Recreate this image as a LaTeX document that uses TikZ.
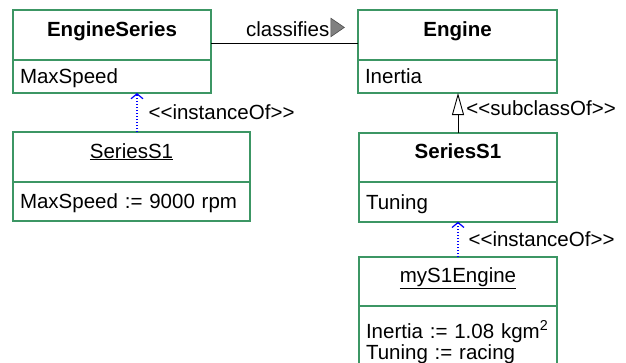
\documentclass[tikz,border=0pt]{standalone}
\usepackage{fontspec}
\setmainfont{Liberation Sans}
\usepackage{tikz}
\usetikzlibrary{arrows.meta, positioning, calc}
\definecolor{classgreen}{RGB}{60,150,100}
\definecolor{linkblue}{RGB}{0,0,255}
\definecolor{markgray}{RGB}{128,128,128}

\begin{document}
\begin{tikzpicture}[x=1pt, y=-1pt,
		every node/.style={font=\fontsize{20.5}{21}\selectfont},
		box/.style={draw=classgreen, line width=1.6pt, outer sep=0pt},
		head/.style={box, minimum width=#1, minimum height=50pt, inner sep=0pt, text height=14pt, text depth=12pt},
		attr/.style={box, text width=#1, align=left, inner xsep=7pt, inner ysep=0pt, text height=14pt, text depth=0pt},
		attrs/.style={box, text width=#1, align=left, inner xsep=7pt, inner ysep=0pt},
		lbl/.style={inner sep=0pt},
		assoc/.style={draw=black, line width=1pt},
		inst/.style={draw=linkblue, line width=1.2pt, dash pattern=on 1.5pt off 1.5pt, -{Straight Barb[length=5pt, width=12pt]}},
		sub/.style={draw=black, line width=0.9pt, -{Triangle[open, length=22pt, width=12pt]}}
	]
	\clip (0,0) rectangle (626,362);
	% classes
	\node[head=198pt] (esH) at (112,35) {\textbf{EngineSeries}};
	\node[attr=184pt, minimum height=33pt, below=0pt of esH] (esA) {MaxSpeed};
	\node[head=199pt] (enH) at (457.5,35) {\textbf{Engine}};
	\node[attr=185pt, minimum height=33pt, below=0pt of enH] (enA) {Inertia};
	\node[head=198pt, minimum height=49.5pt] (ssH) at (458,157.5) {\textbf{SeriesS1}};
	\node[attr=184pt, minimum height=39.5pt, below=0pt of ssH] (ssA) {Tuning};
	% instances
	\node[head=237pt] (objH) at (131.5,157) {\underline{SeriesS1}};
	\node[attr=223pt, minimum height=39pt, below=0pt of objH] (objA) {MaxSpeed := 9000 rpm};
	\node[head=198pt, minimum height=49pt] (mH) at (458,281.5) {\underline{myS1Engine}};
	\node[attrs=184pt, minimum height=72pt, below=0pt of mH] (mA) {Inertia := 1.08 kgm\textsuperscript{2}\\Tuning := racing};
	% links
	\draw[assoc] ([yshift=-8pt]esH.east) -- ([yshift=-8pt]enH.west)
		node[lbl, pos=0.236, anchor=base west, yshift=6.3pt] (cls) {classifies};
	\filldraw[fill=markgray, draw=black!70, line width=0.6pt] ([xshift=1pt]cls.base east) -- ++(0,-18.5) -- ++(13.5,9.25) -- cycle;
	\coordinate (objTop) at ([xshift=5.5pt]objH.north);
	\draw[inst] (objTop) -- (objTop |- esA.south)
		node[lbl, midway, right=11pt] {<{}<instanceOf>{}>};
	\draw[sub] (ssH.north) -- (ssH.north |- enA.south)
		node[lbl, pos=0.61, right=8pt] {<{}<subclassOf>{}>};
	\draw[inst] (mH.north) -- (ssA.south)
		node[lbl, midway, right=10pt] {<{}<instanceOf>{}>};
\end{tikzpicture}
\end{document}
